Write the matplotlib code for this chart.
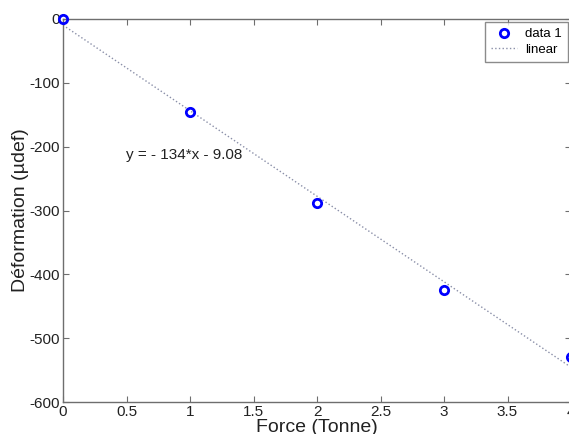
import numpy as np
import matplotlib.pyplot as plt

plt.rcParams['font.family'] = ['Liberation Sans', 'DejaVu Sans']
plt.rcParams['axes.unicode_minus'] = False

# data
force = [0, 1, 2, 3, 4]
deformation = [0, -145, -288, -425, -530]
xticks = [0, 0.5, 1, 1.5, 2, 2.5, 3, 3.5, 4]
yticks = [-600, -500, -400, -300, -200, -100, 0]

# linear fit
p = np.polyfit(force, deformation, 1)
xf = np.array([0, 4])

fig = plt.figure(figsize=(5.69, 4.34), dpi=100)
ax = fig.add_axes([63 / 569, 32 / 434, 508 / 569, 383 / 434])

ax.plot(force, deformation, 'o', color='#0000ff', markerfacecolor='none',
        markersize=6, markeredgewidth=2, label='data 1', clip_on=False, zorder=3)
ax.plot(xf, np.polyval(p, xf), linestyle=':', color='#8a8fa8', linewidth=1,
        label='linear')

ax.text(0.5, -213, 'y = - 134*x - 9.08', fontsize=11, color='#222222', va='center')

ax.set_xlim(0, 4)
ax.set_ylim(-600, 0)
ax.set_xticks(xticks)
ax.set_xticklabels([f'{t:g}' for t in xticks])
ax.set_yticks(yticks)

for s in ax.spines.values():
    s.set_color('#6e6e6e')
    s.set_linewidth(1)
ax.tick_params(direction='in', top=True, right=True, length=4, color='#6e6e6e',
               labelsize=11, labelcolor='#222222', pad=2)

ax.set_xlabel('Force (Tonne)', fontsize=14, color='#222222', labelpad=0)
ax.set_ylabel('Déformation (µdef)', fontsize=14, color='#222222', labelpad=0.5)

leg = ax.legend(loc='upper right', bbox_to_anchor=(0.994, 0.992), borderaxespad=0,
                fontsize=9.5, frameon=True, fancybox=False, edgecolor='#6e6e6e',
                handlelength=2.0, borderpad=0.45, labelspacing=0.25, handletextpad=0.6,
                markerfirst=True)
leg.get_frame().set_linewidth(1)
for t in leg.get_texts():
    t.set_ha('right')

fig.savefig('out.png', dpi=100)
